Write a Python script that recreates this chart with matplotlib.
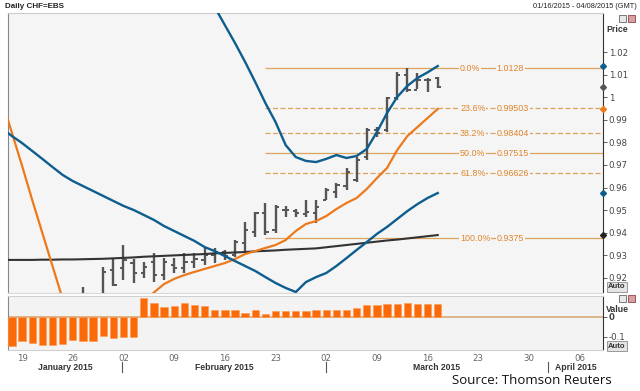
"""Daily CHF=EBS bar chart with moving averages, Fibonacci levels and histogram."""

import matplotlib

matplotlib.use("Agg")
import matplotlib.pyplot as plt
import numpy as np
from matplotlib.patches import Rectangle

# trading days from 01/16/2015, index 0 = Jan 16
day_labels = ["19", "26", "02", "09", "16", "23", "02", "09", "16", "23", "30", "06"]
day_label_idx = [1, 6, 11, 16, 21, 26, 31, 36, 41, 46, 51, 56]
months = ["January 2015", "February 2015", "March 2015", "April 2015"]
month_start_idx = [-0.4, 10.9, 30.95, 52.9]

# OHLC, one entry per trading day (early ones sit below the visible range)
bar_open = [0.862, 0.868, 0.872, 0.866, 0.874, 0.884, 0.892, 0.905, 0.910, 0.908,
            0.9235, 0.9244, 0.9266, 0.9222, 0.9271, 0.9213, 0.9257, 0.9244, 0.9271, 0.928,
            0.9302, 0.9315, 0.9302, 0.9355, 0.9403, 0.9488, 0.9412, 0.9501, 0.9496, 0.9483,
            0.9488, 0.9545, 0.958, 0.9607, 0.9634, 0.9735, 0.9855, 0.9855, 0.9996, 1.0098,
            1.0032, 1.0076, 1.0085]
bar_high = [0.872, 0.879, 0.880, 0.878, 0.886, 0.893, 0.903, 0.9161, 0.912, 0.9249,
            0.9284, 0.9346, 0.9284, 0.9271, 0.9311, 0.9288, 0.9288, 0.9311, 0.9311, 0.9333,
            0.9333, 0.9324, 0.9368, 0.9448, 0.9492, 0.9532, 0.9523, 0.9519, 0.9505, 0.9545,
            0.9545, 0.9598, 0.962, 0.9687, 0.9735, 0.9864, 0.9868, 1.0001, 1.0112, 1.0128,
            1.0108, 1.0085, 1.0089]
bar_low = [0.852, 0.860, 0.862, 0.860, 0.865, 0.875, 0.884, 0.900, 0.898, 0.905,
           0.9165, 0.9191, 0.9178, 0.920, 0.9182, 0.9191, 0.9222, 0.9222, 0.9244, 0.9257,
           0.9266, 0.928, 0.9293, 0.9311, 0.9381, 0.939, 0.9399, 0.947, 0.947, 0.947,
           0.9443, 0.9545, 0.9554, 0.9589, 0.9625, 0.9722, 0.9824, 0.9846, 0.9988, 1.0023,
           1.0035, 1.0023, 1.0041]
bar_close = [0.868, 0.872, 0.866, 0.874, 0.884, 0.892, 0.900, 0.912, 0.905, 0.9227,
             0.9169, 0.928, 0.9222, 0.9249, 0.9213, 0.9271, 0.9244, 0.9271, 0.9284, 0.9302,
             0.9315, 0.9297, 0.9359, 0.9412, 0.9488, 0.9403, 0.9514, 0.9501, 0.9488, 0.9492,
             0.9514, 0.9589, 0.9611, 0.9669, 0.9722, 0.9855, 0.9842, 0.9996, 1.0098, 1.0032,
             1.0076, 1.0076, 1.0045]

# indicator lines, first value is the day before Jan 16 (off the left edge)
line_start = -1
orange_ma = [0.9988, 0.9842, 0.9696, 0.9545, 0.9399, 0.9253, 0.9107, 0.897, 0.889, 0.886, 0.888,
             0.893, 0.899, 0.904, 0.909, 0.9136, 0.9173, 0.9196, 0.9213, 0.9227, 0.924,
             0.9253, 0.9266, 0.9284, 0.9306, 0.9319, 0.9333, 0.9346, 0.9368, 0.9408, 0.9439,
             0.9452, 0.9474, 0.9505, 0.9532, 0.9554, 0.9594, 0.9642, 0.9687, 0.9766, 0.9828,
             0.9868, 0.9908, 0.9948]
blue_slow = [0.9862, 0.9828, 0.9797, 0.9762, 0.9727, 0.9691, 0.9656, 0.9629, 0.9607, 0.9585, 0.9563,
             0.9541, 0.9519, 0.9501, 0.9479, 0.9457, 0.943, 0.9408, 0.9386, 0.9364, 0.9337,
             0.9319, 0.9297, 0.9275, 0.9253, 0.9231, 0.9204, 0.9178, 0.9156, 0.9138, 0.9182,
             0.9204, 0.9222, 0.9253, 0.9288, 0.9324, 0.9359, 0.9395, 0.9426, 0.9461, 0.9496,
             0.9527, 0.9554, 0.9576]
black_ma = [0.9280, 0.9280, 0.9280, 0.9280, 0.9281, 0.9281, 0.9282, 0.9282, 0.9283, 0.9284, 0.9285,
            0.9287, 0.9289, 0.9291, 0.9294, 0.9296, 0.9298, 0.9300, 0.9302, 0.9304, 0.9306,
            0.9309, 0.9311, 0.9313, 0.9315, 0.9318, 0.9320, 0.9322, 0.9325, 0.9327, 0.9329,
            0.9331, 0.9336, 0.9341, 0.9346, 0.9351, 0.9356, 0.9361, 0.9366, 0.9370, 0.9375,
            0.9380, 0.9385, 0.9390]
blue_fast_start = 19
blue_fast = [1.0456, 1.0399, 1.0319, 1.024, 1.0156, 1.0067, 0.9974, 0.989, 0.9788, 0.9735,
             0.9718, 0.9713, 0.9727, 0.9744, 0.9731, 0.974, 0.9771, 0.9846, 0.993, 1.0001,
             1.005, 1.0085, 1.011, 1.0138]

# Fibonacci retracement levels
fib_pct = ["0.0%", "23.6%", "38.2%", "50.0%", "61.8%", "100.0%"]
fib_txt = ["1.0128", "0.99503", "0.98404", "0.97515", "0.96626", "0.9375"]
fib_val = [1.0128, 0.99503, 0.98404, 0.97515, 0.96626, 0.9375]
fib_dashed = [False, True, True, False, True, False]
fib_start = 25

# histogram panel
hist_vals = [-0.147, -0.12, -0.13, -0.14, -0.14, -0.133, -0.113, -0.122, -0.122, -0.097,
             -0.105, -0.10, -0.10, 0.097, 0.072, 0.05, 0.053, 0.072, 0.062, 0.053,
             0.037, 0.033, 0.033, 0.02, 0.037, 0.013, 0.03, 0.03, 0.03, 0.03,
             0.037, 0.033, 0.037, 0.037, 0.047, 0.058, 0.058, 0.063, 0.067, 0.07,
             0.063, 0.063, 0.063]

price_ticks = [0.92, 0.93, 0.94, 0.95, 0.96, 0.97, 0.98, 0.99, 1.00, 1.01, 1.02]
price_tick_labels = ["0.92", "0.93", "0.94", "0.95", "0.96", "0.97", "0.98", "0.99", "1", "1.01", "1.02"]

W, H = 640, 391
BLUE = "#0d5d8e"
ORANGE = "#ec7a1c"
FIB = "#dca45c"
FIB_TXT = "#e0842a"
BAR = "#555555"
SANS = ["Liberation Sans", "DejaVu Sans"]


def fx(px):
    return px / W


def fy(py):
    return 1 - py / H


fig = plt.figure(figsize=(6.4, 3.91), dpi=100, facecolor="white")
ax = fig.add_axes([fx(8), fy(293), fx(595), (293 - 13) / H], facecolor="#f5f5f5")
axh = fig.add_axes([fx(8), fy(350), fx(595), (350 - 296) / H], facecolor="#f3f3f3", sharex=ax)

xmin, xmax = -0.39, 58.3
n = len(bar_close)
x = np.arange(n)
xl = np.arange(line_start, line_start + len(orange_ma))

# OHLC bars
for i in range(n):
    ax.vlines(x[i], bar_low[i], bar_high[i], color=BAR, lw=1.7, zorder=3)
    ax.hlines(bar_open[i], x[i] - 0.32, x[i], color=BAR, lw=1.4, zorder=3)
    ax.hlines(bar_close[i], x[i], x[i] + 0.32, color=BAR, lw=1.4, zorder=3)

ax.plot(xl, black_ma, color="#333333", lw=1.5, zorder=4)
ax.plot(xl, orange_ma, color=ORANGE, lw=1.6, zorder=4)
ax.plot(xl, blue_slow, color=BLUE, lw=1.7, zorder=4)
ax.plot(np.arange(blue_fast_start, blue_fast_start + len(blue_fast)), blue_fast, color=BLUE, lw=1.7, zorder=4)

# Fibonacci levels
for pct, txt, val, dashed in zip(fib_pct, fib_txt, fib_val, fib_dashed):
    ax.hlines(val, fib_start, xmax, color=FIB, lw=0.9, linestyles=(0, (4, 2)) if dashed else "solid", zorder=2)
    for xt, s in ((44.2, pct), (47.8, txt)):
        ax.text(xt, val, s, fontsize=6.4, family=SANS, color=FIB_TXT, ha="left", va="center", zorder=2.5,
                bbox=dict(facecolor="#f5f5f5", edgecolor="none", pad=0.6))

ax.set_xlim(xmin, xmax)
ax.set_ylim(0.91336, 1.03726)
ax.yaxis.tick_right()
ax.set_yticks(price_ticks, price_tick_labels)
ax.tick_params(axis="y", direction="out", length=3, width=0.6, pad=1, labelsize=6.2, colors="#444444")
ax.tick_params(axis="x", length=0, labelbottom=False)
ax.spines["top"].set_color("#cccccc")
ax.spines["bottom"].set_color("#d8d8d8")
ax.spines["left"].set_color("#888888")
ax.spines["right"].set_color("#333333")
for s in ax.spines.values():
    s.set_linewidth(0.8)

# last-value markers on the price axis
last_marks = [(blue_fast[-1], BLUE), (bar_close[-1], "#555555"), (orange_ma[-1], ORANGE),
              (blue_slow[-1], BLUE), (black_ma[-1], "#222222")]
for val, col in last_marks:
    ax.plot([xmax], [val], marker="D", ms=3, color=col, clip_on=False, zorder=6)

# histogram
axh.bar(x, hist_vals, width=0.72, color="#fb6a08", edgecolor="#ff9a50", linewidth=0.4, zorder=3)
axh.axhline(0, color="#d8ac7a", lw=1.2, zorder=2)
axh.set_ylim(-0.165, 0.105)
axh.yaxis.tick_right()
axh.set_yticks([0, -0.1], ["0", "-0.1"])
axh.get_yticklabels()[0].set_fontweight("bold")
axh.tick_params(axis="y", direction="out", length=3, width=0.6, pad=1, labelsize=6.2, colors="#444444")
axh.set_xticks(day_label_idx, day_labels)
axh.tick_params(axis="x", length=0, pad=3, labelsize=6.2, colors="#666666")
axh.spines["top"].set_color("#d0d0d0")
axh.spines["bottom"].set_color("#d0d0d0")
axh.spines["left"].set_color("#888888")
axh.spines["right"].set_color("#333333")
for s in axh.spines.values():
    s.set_linewidth(0.8)

# month labels and separators
bounds = month_start_idx + [xmax]
to_px = lambda i: 8 + (i - xmin) / (xmax - xmin) * 595
for k, name in enumerate(months):
    cx = (to_px(bounds[k]) + to_px(bounds[k + 1])) / 2
    fig.text(fx(cx), fy(367), name, fontsize=6.2, family=SANS, fontweight="bold", color="#333333",
             ha="center", va="center")
    if k > 0:
        px = to_px(bounds[k])
        fig.add_artist(plt.Line2D([fx(px), fx(px)], [fy(362), fy(372)], color="#555555", lw=0.8))

# header text
fig.text(fx(5), fy(7), "Daily CHF=EBS", fontsize=5.8, family=SANS, fontweight="bold", color="#222222",
         ha="left", va="center")
fig.text(fx(637), fy(7), "01/16/2015 - 04/08/2015 (GMT)", fontsize=5.3, family=SANS, color="#222222",
         ha="right", va="center")
fig.text(fx(617), fy(30), "Price", fontsize=6.3, family=SANS, fontweight="bold", color="#333333",
         ha="center", va="center")
fig.text(fx(617), fy(310), "Value", fontsize=6.3, family=SANS, fontweight="bold", color="#333333",
         ha="center", va="center")
for py in (287, 346):
    fig.text(fx(617), fy(py), "Auto", fontsize=5.5, family=SANS, fontweight="bold", color="#333333",
             ha="center", va="center", bbox=dict(facecolor="#e4e4e4", edgecolor="#8a8a8a", pad=0.8, linewidth=0.6))

# small window icons
for py in (18, 298):
    fig.add_artist(Rectangle((fx(619), fy(py + 4)), fx(7), 7 / H, facecolor="#e8e8e8", edgecolor="#666666", lw=0.6))
    fig.add_artist(Rectangle((fx(628), fy(py + 4)), fx(7), 7 / H, facecolor="#d9a0a0", edgecolor="#884444", lw=0.6))

fig.text(fx(532), fy(380), "Source: Thomson Reuters", fontsize=9.5, family="Open Sans", color="#111111",
         ha="center", va="center")

fig.savefig("out.png", dpi=100, facecolor="white")
